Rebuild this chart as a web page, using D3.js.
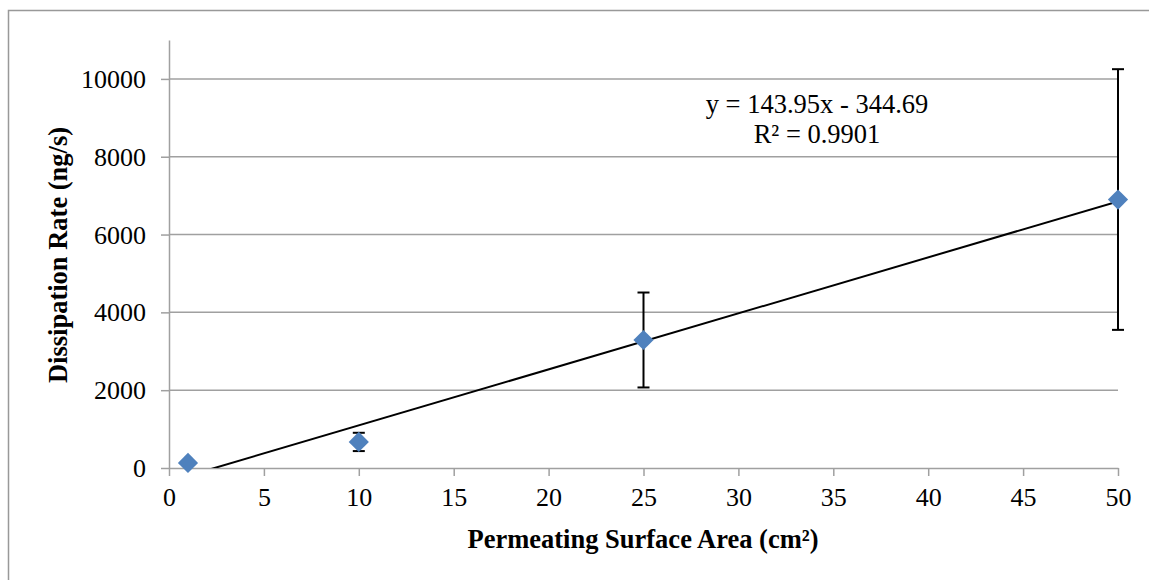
<!DOCTYPE html>
<html>
<head>
<meta charset="utf-8">
<script src="https://cdn.jsdelivr.net/npm/d3@7"></script>
<style>
  body { margin: 0; background: #fff; }
  svg { display: block; }
  svg text { font-family: "Liberation Serif", "Times New Roman", Times, "DejaVu Serif", serif; }
</style>
</head>
<body>
<div id="chart"></div>
<script>
// data
const areas = [1, 10, 25, 50];
const rates = [130, 670, 3290, 6900];
const errors = [0, 235, 1220, 3350];
const slope = 143.95;
const intercept = -344.69;
const xTicks = [0, 5, 10, 15, 20, 25, 30, 35, 40, 45, 50];
const yTicks = [0, 2000, 4000, 6000, 8000, 10000];
const eqLines = ['y = 143.95x - 344.69', 'R² = 0.9901'];

const serif = '"Liberation Serif", "Times New Roman", Times, "DejaVu Serif", serif';
const width = 1149;
const height = 580;
const margin = { left: 169, right: 31, top: 40, bottom: 112 };

const svg = d3.select('#chart')
  .append('svg')
  .attr('width', width)
  .attr('height', height);

// outer chart frame
svg.append('rect')
  .attr('x', 8.5).attr('y', 10.5)
  .attr('width', width + 20).attr('height', height + 20)
  .attr('fill', 'none')
  .attr('stroke', '#999')
  .attr('stroke-width', 1.5);

const x = d3.scaleLinear()
  .domain([0, 50])
  .range([margin.left, width - margin.right]);

const y = d3.scaleLinear()
  .domain([0, 11000])
  .range([height - margin.bottom, margin.top]);

// gridlines
svg.append('g')
  .selectAll('line')
  .data(yTicks.filter(d => d > 0))
  .enter()
  .append('line')
  .attr('x1', x(0)).attr('x2', x(50))
  .attr('y1', d => y(d)).attr('y2', d => y(d))
  .attr('stroke', '#a0a0a0')
  .attr('stroke-width', 1.5);

const xAxis = svg.append('g')
  .attr('transform', `translate(0,${y(0)})`)
  .call(d3.axisBottom(x).tickValues(xTicks).tickSize(8).tickSizeOuter(0).tickPadding(11));

const yAxis = svg.append('g')
  .attr('transform', `translate(${x(0)},0)`)
  .call(d3.axisLeft(y).tickValues(yTicks).tickSize(8).tickSizeOuter(0).tickPadding(15).tickFormat(d3.format('d')));

[xAxis, yAxis].forEach(a => {
  a.attr('font-family', serif).attr('font-size', 26);
  a.select('.domain').attr('stroke', '#a0a0a0').attr('stroke-width', 1.5);
  a.selectAll('.tick line').attr('stroke', '#a0a0a0').attr('stroke-width', 1.5);
  a.selectAll('.tick text').attr('fill', '#000');
});
yAxis.selectAll('.tick text').attr('dy', '0.33em');
xAxis.selectAll('.tick text').attr('dy', '0.72em');

// trendline, clipped to plot area
svg.append('clipPath').attr('id', 'plotClip')
  .append('rect')
  .attr('x', x(0)).attr('y', y(11000))
  .attr('width', x(50) - x(0)).attr('height', y(0) - y(11000));

const xs = [d3.min(areas), d3.max(areas)];
svg.append('line')
  .attr('clip-path', 'url(#plotClip)')
  .attr('x1', x(xs[0])).attr('y1', y(slope * xs[0] + intercept))
  .attr('x2', x(xs[1])).attr('y2', y(slope * xs[1] + intercept))
  .attr('stroke', '#000')
  .attr('stroke-width', 2);

// error bars
const eb = svg.append('g');
areas.forEach((a, i) => {
  if (!errors[i]) return;
  const cx = x(a);
  const top = y(rates[i] + errors[i]);
  const bot = y(rates[i] - errors[i]);
  eb.append('line').attr('x1', cx).attr('x2', cx).attr('y1', top).attr('y2', bot)
    .attr('stroke', '#000').attr('stroke-width', 2);
  [top, bot].forEach(v => {
    eb.append('line').attr('x1', cx - 6).attr('x2', cx + 6).attr('y1', v).attr('y2', v)
      .attr('stroke', '#000').attr('stroke-width', 2);
  });
});

// markers
const diamond = d3.symbol().type(d3.symbolDiamond2).size(260);
svg.append('g')
  .selectAll('path')
  .data(areas)
  .enter()
  .append('path')
  .attr('d', diamond)
  .attr('transform', (d, i) => `translate(${x(d)},${y(rates[i])})`)
  .attr('fill', '#4f81bd');

// equation label
svg.append('text')
  .attr('x', 817).attr('y', 113)
  .attr('text-anchor', 'middle')
  .attr('font-family', serif)
  .style('font-size', '26.5px')
  .selectAll('tspan')
  .data(eqLines)
  .enter()
  .append('tspan')
  .attr('x', 817)
  .attr('dy', (d, i) => i === 0 ? 0 : 30)
  .text(d => d);

// axis titles
svg.append('text')
  .attr('x', 643)
  .attr('y', 548)
  .attr('text-anchor', 'middle')
  .attr('font-family', serif)
  .style('font-size', '26.5px')
  .style('font-weight', 'bold')
  .text('Permeating Surface Area (cm²)');

svg.append('text')
  .attr('transform', 'translate(67,255) rotate(-90)')
  .attr('text-anchor', 'middle')
  .attr('font-family', serif)
  .style('font-size', '26.5px')
  .style('font-weight', 'bold')
  .text('Dissipation Rate (ng/s)');
</script>
</body>
</html>
